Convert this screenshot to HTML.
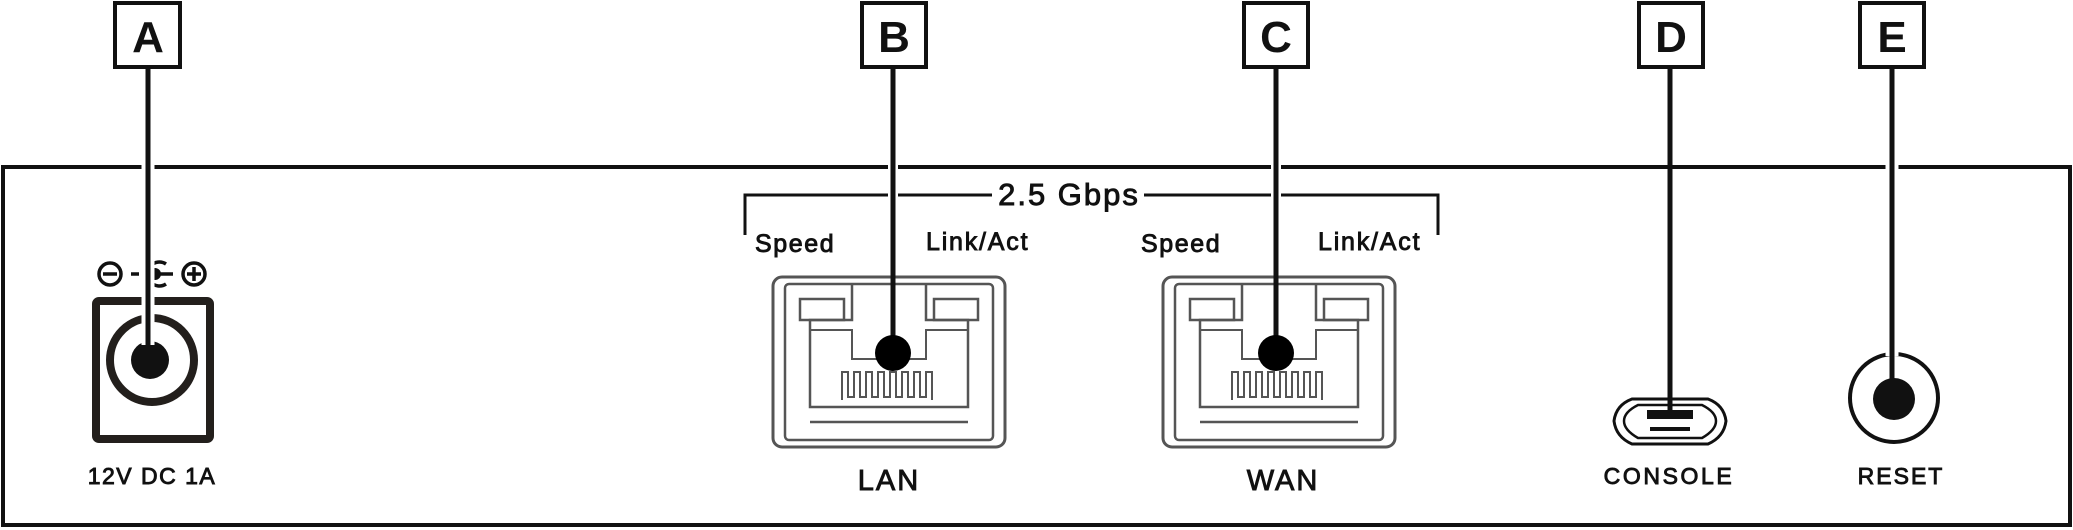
<!DOCTYPE html>
<html><head><meta charset="utf-8"><style>
html,body{margin:0;padding:0;background:#fff;}
svg{display:block;}
text{font-family:"Liberation Sans",sans-serif;fill:#111;}
.m{stroke:#111;stroke-width:0.9;}
</style></head><body>
<svg width="2073" height="530" viewBox="0 0 2073 530" xmlns="http://www.w3.org/2000/svg">
<!-- frame -->
<rect x="3" y="167" width="2067" height="358" fill="none" stroke="#111" stroke-width="4"/>
<!-- bracket -->
<path d="M745 235 V195 H992 M1144 195 H1438 V235" fill="none" stroke="#111" stroke-width="3"/>
<text class="m" x="1069" y="205" font-size="31" letter-spacing="2" text-anchor="middle">2.5 Gbps</text>
<text class="m" x="755" y="252" font-size="25" letter-spacing="1.6">Speed</text>
<text class="m" x="926" y="250" font-size="25" letter-spacing="1.8">Link/Act</text>
<text class="m" x="1141" y="252" font-size="25" letter-spacing="1.6">Speed</text>
<text class="m" x="1318" y="250" font-size="25" letter-spacing="1.8">Link/Act</text>

<!-- DC symbol -->
<g stroke="#111" stroke-width="3.5" fill="none">
<circle cx="110" cy="274" r="11"/><line x1="103" y1="274" x2="117" y2="274"/>
<line x1="131" y1="274" x2="139" y2="274"/>
<path d="M166 264 A12 12 0 1 0 166 284"/>
<line x1="158" y1="274" x2="173" y2="274"/>
<circle cx="194" cy="274" r="11"/><line x1="187" y1="274" x2="201" y2="274"/><line x1="194" y1="267" x2="194" y2="281"/>
</g>
<circle cx="155" cy="274" r="6" fill="#111"/>
<!-- DC jack -->
<rect x="96" y="301" width="114" height="138" rx="3" fill="none" stroke="#231f1c" stroke-width="8"/>
<circle cx="152" cy="360" r="42" fill="none" stroke="#231f1c" stroke-width="8"/>
<circle cx="150" cy="360" r="19" fill="#111"/>
<text class="m" x="152" y="484" font-size="23" letter-spacing="1.5" text-anchor="middle">12V DC 1A</text>

<!-- RJ45 template -->
<defs>
<g id="rj">
<rect x="0" y="0" width="232" height="170" rx="9" fill="none" stroke="#555" stroke-width="3"/>
<rect x="12" y="7" width="208" height="156" rx="4" fill="none" stroke="#555" stroke-width="2.5"/>
<rect x="27" y="22" width="44" height="21" fill="none" stroke="#555" stroke-width="2.5"/>
<rect x="161" y="22" width="44" height="21" fill="none" stroke="#555" stroke-width="2.5"/>
<path d="M79 7 V43 H37 V130 H195 V43 H153 V7" fill="none" stroke="#555" stroke-width="2.5"/>
<path d="M37 53 H79 V82 H153 V53 H195" fill="none" stroke="#555" stroke-width="2"/>
<path d="M37 145 H195" fill="none" stroke="#555" stroke-width="2.5"/>
<path d="M69 123 V95 H75 V120 H81 V95 H87 V120 H93 V95 H99 V120 H105 V95 H111 V120 H117 V95 H123 V120 H129 V95 H135 V120 H141 V95 H147 V120 H153 V95 H159 V123" fill="none" stroke="#555" stroke-width="2"/>
</g>
</defs>
<use href="#rj" x="773" y="277"/>
<use href="#rj" x="1163" y="277"/>
<text class="m" x="889" y="490" font-size="29" letter-spacing="2" text-anchor="middle">LAN</text>
<text class="m" x="1283" y="490" font-size="29" letter-spacing="2" text-anchor="middle">WAN</text>

<!-- micro usb -->
<path d="M1632 399 H1708 Q1724 405 1726 421 Q1724 437 1708 444 H1632 Q1616 437 1614 421 Q1616 405 1632 399Z" fill="none" stroke="#111" stroke-width="3"/>
<path d="M1638 405 H1702 Q1716 412 1716 421 Q1716 430 1702 438 H1638 Q1624 430 1624 421 Q1624 412 1638 405Z" fill="none" stroke="#111" stroke-width="2.5"/>
<rect x="1647" y="410" width="46" height="9" fill="#111"/>
<rect x="1650" y="427" width="40" height="4" fill="#111"/>
<text class="m" x="1669" y="484" font-size="23" letter-spacing="2.6" text-anchor="middle">CONSOLE</text>

<!-- reset -->
<circle cx="1894" cy="398" r="44" fill="none" stroke="#111" stroke-width="4"/>
<circle cx="1894" cy="399" r="21" fill="#111"/>
<text class="m" x="1901" y="484" font-size="23" letter-spacing="2" text-anchor="middle">RESET</text>

<!-- connectors -->
<g stroke="#fff" stroke-width="13">
<line x1="148" y1="70" x2="148" y2="345"/>
<line x1="1892" y1="70" x2="1892" y2="356"/>
</g>
<g stroke="#fff" stroke-width="10">
<line x1="893" y1="160" x2="893" y2="200"/>
<line x1="1276" y1="160" x2="1276" y2="200"/>
</g>
<g stroke="#111" stroke-width="5">
<line x1="148" y1="68" x2="148" y2="355"/>
<line x1="893" y1="68" x2="893" y2="345"/>
<line x1="1276" y1="68" x2="1276" y2="345"/>
<line x1="1670" y1="68" x2="1670" y2="415"/>
<line x1="1892" y1="68" x2="1892" y2="385"/>
</g>
<circle cx="893" cy="353" r="18" fill="#000"/>
<circle cx="1276" cy="353" r="18" fill="#000"/>

<!-- label boxes -->
<g fill="#fff" stroke="#111" stroke-width="4">
<rect x="115" y="3" width="65" height="64"/>
<rect x="862" y="3" width="64" height="64"/>
<rect x="1244" y="3" width="64" height="64"/>
<rect x="1639" y="3" width="64" height="64"/>
<rect x="1860" y="3" width="64" height="64"/>
</g>
<g font-size="44" font-weight="bold" text-anchor="middle">
<text x="148" y="52">A</text>
<text x="894" y="52">B</text>
<text x="1276" y="52">C</text>
<text x="1671" y="52">D</text>
<text x="1892" y="52">E</text>
</g>
</svg>
</body></html>
